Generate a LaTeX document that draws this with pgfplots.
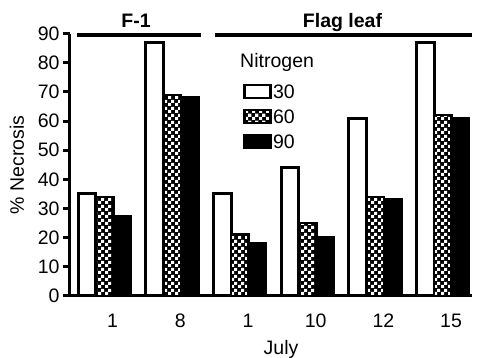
\documentclass[border=0pt]{standalone}
\usepackage{pgfplots}
\pgfplotsset{compat=1.18}
\usetikzlibrary{patterns}
\usepackage{fontspec}
\setmainfont{Liberation Sans}

% checker fill for the 60 series
\pgfdeclarepatternformonly{chk}{\pgfpointorigin}{\pgfqpoint{7pt}{7pt}}{\pgfqpoint{7pt}{7pt}}{%
  \pgfpathrectangle{\pgfpointorigin}{\pgfqpoint{3.5pt}{3.5pt}}%
  \pgfpathrectangle{\pgfqpoint{3.5pt}{3.5pt}}{\pgfqpoint{3.5pt}{3.5pt}}%
  \pgfusepath{fill}}

\newcommand{\fs}{\fontsize{19.5}{21}\selectfont}

\begin{document}
\begin{tikzpicture}
\useasboundingbox (-70pt,-62pt) rectangle (407pt,296pt);
\begin{axis}[
    at={(0pt,0pt)}, anchor=south west,
    scale only axis,
    width=402pt, height=262.5pt,
    xmin=0.49, xmax=6.43,
    ymin=0, ymax=90,
    clip=false,
    axis x line*=bottom, axis y line*=left,
    axis line style={line width=3pt},
    ybar=0pt, bar width=17.5pt,
    ytick={0,10,...,90},
    xtick={1.12,2.12,3.12,4.12,5.12,6.12},
    xticklabels={1,8,1,10,12,15},
    x tick style={draw=none},
    y tick style={line width=3pt, black},
    tick align=outside, major tick length=7pt,
    tick label style={font=\fs},
    xticklabel style={anchor=base, yshift=-25pt},
    /pgf/number format/assume math mode=true,
    xlabel={July},
    xlabel style={font=\fs, at={(rel axis cs:0.525,0)}, anchor=base, yshift=-59pt, inner sep=0pt},
    ylabel={\% Necrosis},
    ylabel style={font=\fs, at={(rel axis cs:0,0.5)}, anchor=center, yshift=53pt, inner sep=0pt},
    legend image code/.code={\draw[#1, line width=2.5pt] (0pt,-6.5pt) rectangle (26pt,6.5pt);},
    legend style={at={(rel axis cs:0.43,0.81)}, anchor=north west, draw=none, fill=none,
        font=\fs, inner sep=0pt, row sep=9.5pt,
        nodes={inner sep=0pt, text height=14pt, text depth=0pt},
        /tikz/every odd column/.append style={column sep=1.5pt}},
    legend cell align=left,
]
\addplot[draw=black, line width=3pt, fill=white]
  coordinates {(1,35) (2,87) (3,35) (4,44) (5,61) (6,87)};
\addlegendentry{30}
\addplot[draw=black, line width=2.5pt, fill=black, postaction={pattern=chk, pattern color=white}]
  coordinates {(1,34) (2,69) (3,21) (4,25) (5,34) (6,62)};
\addlegendentry{60}
\addplot[draw=black, line width=2.5pt, fill=black]
  coordinates {(1,27.5) (2,68) (3,18) (4,20) (5,33) (6,61)};
\addlegendentry{90}

% group brackets and titles
\draw[line width=4pt] (axis cs:0.593,89.4) -- (axis cs:2.426,89.4);
\draw[line width=4pt] (axis cs:2.632,89.4) -- (axis cs:6.43,89.4);
\node[anchor=base, inner sep=0pt, font=\fs\bfseries] at (axis cs:1.465,92) {F-1};
\node[anchor=base, inner sep=0pt, font=\fs\bfseries] at (axis cs:4.516,92) {Flag leaf};
\node[anchor=west, inner sep=0pt, font=\fs] at (rel axis cs:0.423,0.891) {Nitrogen};
\end{axis}
\end{tikzpicture}
\end{document}
